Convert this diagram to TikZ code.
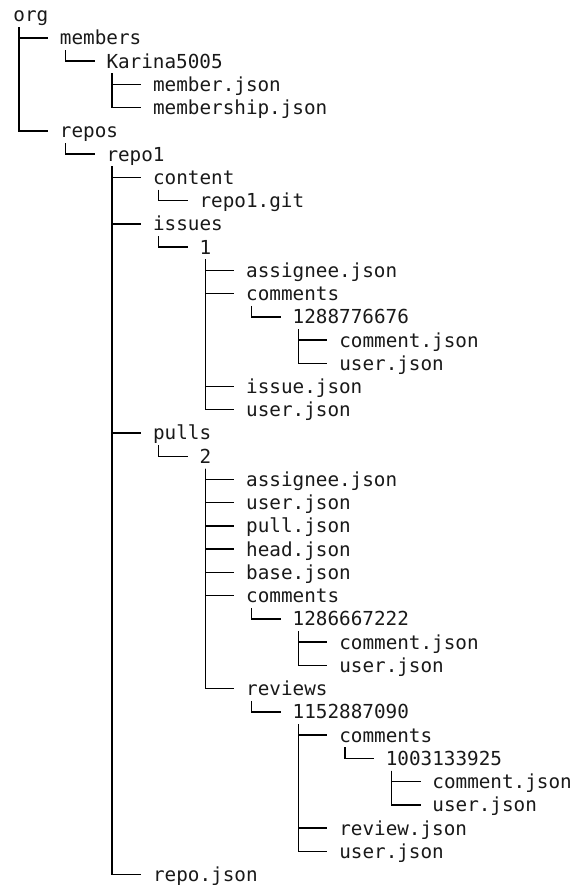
\documentclass[tikz,border=0pt]{standalone}
\usepackage{fontspec}
\setmonofont{DejaVu Sans Mono}
\usepackage{tikz}
\tikzstyle{entry} = [anchor=base west, inner sep=0pt, text=black!90, font=\ttfamily\fontsize{19.3}{23}\selectfont]
\tikzstyle{tree_line} = [draw=black, line width=1.4pt]

\begin{document}
\begin{tikzpicture}[x=11.64pt, y=-23.24pt]
		\useasboundingbox (-1.134,-0.934) rectangle (48.18,37.15);
		\node (org) at (0,0) [entry] {org};
		\node (members) at (4,1) [entry] {members};
		\node (karina) at (8,2) [entry] {Karina5005};
		\node (member) at (12,3) [entry] {member.json};
		\node (membership) at (12,4) [entry] {membership.json};
		\node (repos) at (4,5) [entry] {repos};
		\node (repoA) at (8,6) [entry] {repo1};
		\node (content) at (12,7) [entry] {content};
		\node (repogit) at (16,8) [entry] {repo1.git};
		\node (issues) at (12,9) [entry] {issues};
		\node (issueA) at (16,10) [entry] {1};
		\node (iassignee) at (20,11) [entry] {assignee.json};
		\node (icomments) at (20,12) [entry] {comments};
		\node (icomment) at (24,13) [entry] {1288776676};
		\node (iccomment) at (28,14) [entry] {comment.json};
		\node (icuser) at (28,15) [entry] {user.json};
		\node (iissue) at (20,16) [entry] {issue.json};
		\node (iuser) at (20,17) [entry] {user.json};
		\node (pulls) at (12,18) [entry] {pulls};
		\node (pullA) at (16,19) [entry] {2};
		\node (passignee) at (20,20) [entry] {assignee.json};
		\node (puser) at (20,21) [entry] {user.json};
		\node (ppull) at (20,22) [entry] {pull.json};
		\node (phead) at (20,23) [entry] {head.json};
		\node (pbase) at (20,24) [entry] {base.json};
		\node (pcomments) at (20,25) [entry] {comments};
		\node (pcomment) at (24,26) [entry] {1286667222};
		\node (pccomment) at (28,27) [entry] {comment.json};
		\node (pcuser) at (28,28) [entry] {user.json};
		\node (reviews) at (20,29) [entry] {reviews};
		\node (review) at (24,30) [entry] {1152887090};
		\node (rcomments) at (28,31) [entry] {comments};
		\node (rcomment) at (32,32) [entry] {1003133925};
		\node (rccomment) at (36,33) [entry] {comment.json};
		\node (rcuser) at (36,34) [entry] {user.json};
		\node (rreview) at (28,35) [entry] {review.json};
		\node (ruser) at (28,36) [entry] {user.json};
		\node (repojson) at (12,37) [entry] {repo.json};
		
		\foreach \p/\c in {org/members, org/repos, members/karina, karina/member, karina/membership,
			repos/repoA, repoA/content, repoA/issues, repoA/pulls, repoA/repojson, content/repogit,
			issues/issueA, issueA/iassignee, issueA/icomments, issueA/iissue, issueA/iuser,
			icomments/icomment, icomment/iccomment, icomment/icuser,
			pulls/pullA, pullA/passignee, pullA/puser, pullA/ppull, pullA/phead, pullA/pbase,
			pullA/pcomments, pullA/reviews, pcomments/pcomment, pcomment/pccomment, pcomment/pcuser,
			reviews/review, review/rcomments, review/rreview, review/ruser,
			rcomments/rcomment, rcomment/rccomment, rcomment/rcuser}
			\draw[tree_line] ([xshift=5.8pt,yshift=-5.3pt]\p.base west) |- ([xshift=-11.6pt,yshift=7pt]\c.base west);
		\end{tikzpicture}
\end{document}
